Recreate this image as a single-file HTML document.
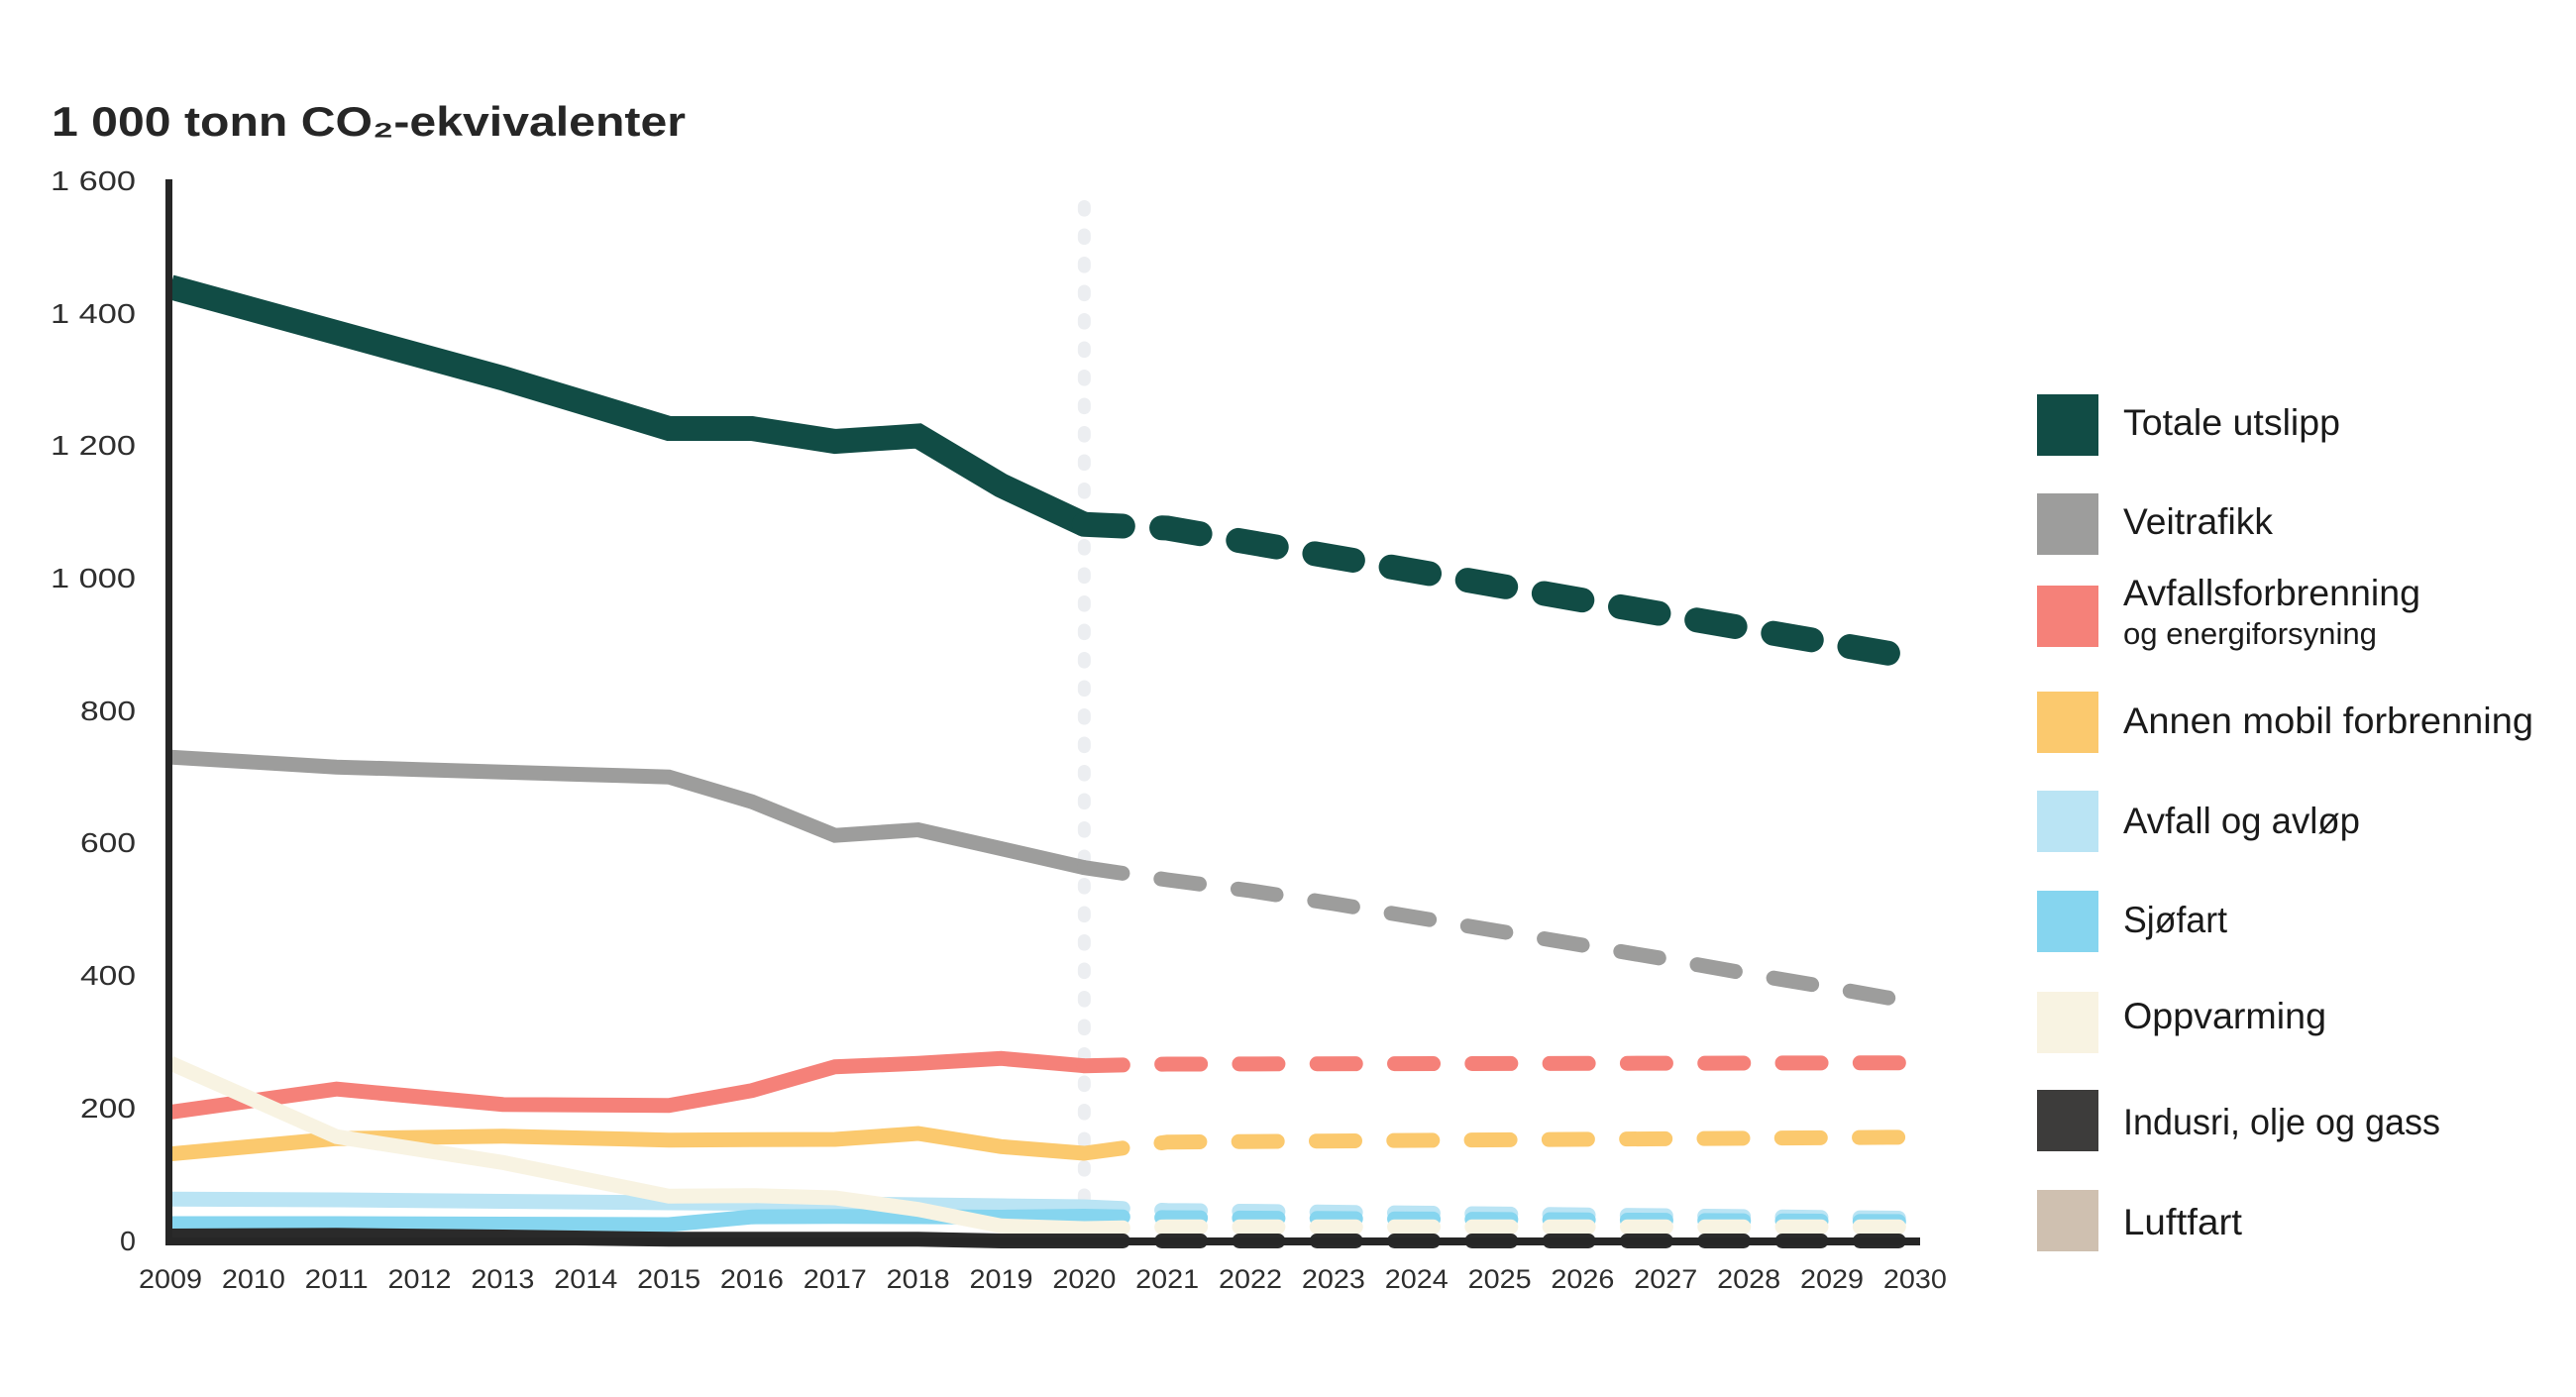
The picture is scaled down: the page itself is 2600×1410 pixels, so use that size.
<!DOCTYPE html>
<html>
<head>
<meta charset="utf-8">
<style>
  html,body{margin:0;padding:0;background:#fff;}
  svg{display:block;}
  .tick{font-family:"Liberation Sans",sans-serif;font-size:28px;fill:#2e2e2e;}
  .yr{font-family:"Liberation Sans",sans-serif;font-size:27px;fill:#2e2e2e;}
  .leg{font-family:"Liberation Sans",sans-serif;font-size:37px;fill:#1a1a1a;}
  .legs{font-family:"Liberation Sans",sans-serif;font-size:31px;fill:#1a1a1a;}
</style>
</head>
<body>
<svg width="2600" height="1410" viewBox="0 0 2600 1410" xmlns="http://www.w3.org/2000/svg">
  <rect width="2600" height="1410" fill="#fff"/>

  <!-- Title -->
  <text x="52" y="137" font-family="'Liberation Sans',sans-serif" font-weight="bold" font-size="42" fill="#262626" textLength="640" lengthAdjust="spacingAndGlyphs">1 000 tonn CO₂-ekvivalenter</text>

  <!-- Y tick labels -->
  <g class="tick" text-anchor="end">
    <text x="137" y="192" textLength="86" lengthAdjust="spacingAndGlyphs">1 600</text>
    <text x="137" y="326" textLength="86" lengthAdjust="spacingAndGlyphs">1 400</text>
    <text x="137" y="459" textLength="86" lengthAdjust="spacingAndGlyphs">1 200</text>
    <text x="137" y="593" textLength="86" lengthAdjust="spacingAndGlyphs">1 000</text>
    <text x="137" y="727" textLength="56" lengthAdjust="spacingAndGlyphs">800</text>
    <text x="137" y="860" textLength="56" lengthAdjust="spacingAndGlyphs">600</text>
    <text x="137" y="994" textLength="56" lengthAdjust="spacingAndGlyphs">400</text>
    <text x="137" y="1128" textLength="56" lengthAdjust="spacingAndGlyphs">200</text>
    <text x="137" y="1262" textLength="16" lengthAdjust="spacingAndGlyphs">0</text>
  </g>

  <!-- X year labels -->
  <g class="yr" text-anchor="middle">
    <text x="172" y="1300" textLength="64" lengthAdjust="spacingAndGlyphs">2009</text>
    <text x="255.85" y="1300" textLength="64" lengthAdjust="spacingAndGlyphs">2010</text>
    <text x="339.7" y="1300" textLength="64" lengthAdjust="spacingAndGlyphs">2011</text>
    <text x="423.55" y="1300" textLength="64" lengthAdjust="spacingAndGlyphs">2012</text>
    <text x="507.4" y="1300" textLength="64" lengthAdjust="spacingAndGlyphs">2013</text>
    <text x="591.25" y="1300" textLength="64" lengthAdjust="spacingAndGlyphs">2014</text>
    <text x="675.1" y="1300" textLength="64" lengthAdjust="spacingAndGlyphs">2015</text>
    <text x="758.95" y="1300" textLength="64" lengthAdjust="spacingAndGlyphs">2016</text>
    <text x="842.8" y="1300" textLength="64" lengthAdjust="spacingAndGlyphs">2017</text>
    <text x="926.65" y="1300" textLength="64" lengthAdjust="spacingAndGlyphs">2018</text>
    <text x="1010.5" y="1300" textLength="64" lengthAdjust="spacingAndGlyphs">2019</text>
    <text x="1094.35" y="1300" textLength="64" lengthAdjust="spacingAndGlyphs">2020</text>
    <text x="1178.2" y="1300" textLength="64" lengthAdjust="spacingAndGlyphs">2021</text>
    <text x="1262.05" y="1300" textLength="64" lengthAdjust="spacingAndGlyphs">2022</text>
    <text x="1345.9" y="1300" textLength="64" lengthAdjust="spacingAndGlyphs">2023</text>
    <text x="1429.75" y="1300" textLength="64" lengthAdjust="spacingAndGlyphs">2024</text>
    <text x="1513.6" y="1300" textLength="64" lengthAdjust="spacingAndGlyphs">2025</text>
    <text x="1597.45" y="1300" textLength="64" lengthAdjust="spacingAndGlyphs">2026</text>
    <text x="1681.3" y="1300" textLength="64" lengthAdjust="spacingAndGlyphs">2027</text>
    <text x="1765.15" y="1300" textLength="64" lengthAdjust="spacingAndGlyphs">2028</text>
    <text x="1849" y="1300" textLength="64" lengthAdjust="spacingAndGlyphs">2029</text>
    <text x="1932.85" y="1300" textLength="64" lengthAdjust="spacingAndGlyphs">2030</text>
  </g>

  <!-- vertical dotted line at 2020 -->
  <path d="M1094.35 208.5 V1245" stroke="#eceef1" stroke-width="13" stroke-linecap="round" stroke-dasharray="3.6 24.9" fill="none"/>

  <g fill="none" stroke-linejoin="miter">
    <!-- Avfall og avløp (light blue) -->
    <path d="M172 1210.3 L339.7 1211 L507.4 1212.5 L675.1 1214 L842.8 1215 L1010.5 1217 L1094.35 1218" stroke="#bae4f4" stroke-width="15"/>
    <path d="M1094.35 1218 L1178.2 1221.7 L1932.85 1229.7" stroke="#bae4f4" stroke-width="15" stroke-linecap="round" stroke-dasharray="39 39.3"/>

    <!-- Sjøfart (medium blue) -->
    <path d="M172 1235 L339.7 1235 L507.4 1235.5 L675.1 1236 L758.95 1228.2 L842.8 1227.8 L926.65 1228 L1010.5 1228.5 L1094.35 1227.5" stroke="#86d5ef" stroke-width="15"/>
    <path d="M1094.35 1227.5 L1178.2 1229 L1932.85 1233" stroke="#86d5ef" stroke-width="15" stroke-linecap="round" stroke-dasharray="39 39.3"/>

    <!-- Annen mobil forbrenning (yellow) -->
    <path d="M172 1164.7 L255.85 1157 L339.7 1149.2 L423.55 1148 L507.4 1146.7 L591.25 1148.7 L675.1 1150.7 L758.95 1150.3 L842.8 1150 L926.65 1144 L1010.5 1157.3 L1094.35 1164" stroke="#fbc96e" stroke-width="15"/>
    <path d="M1094.35 1164 L1178.2 1152.7 L1932.85 1147.7" stroke="#fbc96e" stroke-width="15" stroke-linecap="round" stroke-dasharray="39 39.3"/>

    <!-- Avfallsforbrenning (red) -->
    <path d="M172 1122.5 L255.85 1110.8 L339.7 1099.2 L423.55 1107 L507.4 1114.7 L591.25 1115.2 L675.1 1115.8 L758.95 1100.7 L842.8 1076.7 L926.65 1073.3 L1010.5 1068.3 L1094.35 1075.7" stroke="#f58179" stroke-width="15"/>
    <path d="M1094.35 1075.7 L1178.2 1074 L1932.85 1072.7" stroke="#f58179" stroke-width="15" stroke-linecap="round" stroke-dasharray="39 39.3"/>

    <!-- Veitrafikk (grey) -->
    <path d="M172 764.2 L255.85 769.2 L339.7 774.2 L423.55 776.7 L507.4 779.2 L591.25 781.7 L675.1 784.2 L758.95 809.2 L842.8 843.2 L926.65 837.5 L1010.5 856.6 L1094.35 875.7" stroke="#9d9d9c" stroke-width="15"/>
    <path d="M1094.35 875.7 L1178.2 888 L1262.05 899 L1345.9 912 L1429.75 926 L1513.6 940 L1597.45 954 L1681.3 968 L1765.15 983 L1849 997 L1932.85 1012" stroke="#9d9d9c" stroke-width="15" stroke-linecap="round" stroke-dasharray="39 39.3"/>

    <!-- Totale utslipp (dark green) -->
    <path d="M172 289.7 L507.4 381.7 L591.25 407 L675.1 432.5 L758.95 432.5 L842.8 445.5 L926.65 440 L1010.5 490 L1094.35 529.3" stroke="#114c45" stroke-width="25"/>
    <path d="M1094.35 529.3 L1178.2 533 L1932.85 664" stroke="#114c45" stroke-width="25" stroke-linecap="round" stroke-dasharray="39 39.3"/>

    <!-- Oppvarming (cream) -->
    <path d="M172 1073 L255.85 1110 L339.7 1147.3 L423.55 1160.3 L507.4 1173.3 L591.25 1190.3 L675.1 1207.3 L758.95 1206.7 L842.8 1209 L926.65 1220.7 L1010.5 1237.3 L1094.35 1240" stroke="#f8f3e2" stroke-width="15"/>
    <path d="M1094.35 1240 L1178.2 1238.3 L1932.85 1238.3" stroke="#f8f3e2" stroke-width="15" stroke-linecap="round" stroke-dasharray="39 39.3"/>

    <!-- Indusri, olje og gass (black) -->
    <path d="M172 1247.5 L339.7 1246.8 L507.4 1248.5 L675.1 1250.8 L926.65 1250.8 L1010.5 1252.5 L1094.35 1252.5" stroke="#2a2a2a" stroke-width="15"/>
    <path d="M1094.35 1252.5 L1932.85 1252.5" stroke="#2a2a2a" stroke-width="15" stroke-linecap="round" stroke-dasharray="39 39.3"/>
  </g>

  <!-- Axes -->
  <rect x="167" y="181" width="7" height="1076" fill="#262626"/>
  <rect x="167" y="1249" width="1771" height="8" fill="#262626"/>

  <!-- Legend -->
  <rect x="2056" y="398" width="62" height="62" fill="#114c45"/>
  <text class="leg" x="2143" y="439" textLength="219" lengthAdjust="spacingAndGlyphs">Totale utslipp</text>

  <rect x="2056" y="498" width="62" height="62" fill="#9d9d9c"/>
  <text class="leg" x="2143" y="539" textLength="151" lengthAdjust="spacingAndGlyphs">Veitrafikk</text>

  <rect x="2056" y="591" width="62" height="62" fill="#f58179"/>
  <text class="leg" x="2143" y="611" textLength="300" lengthAdjust="spacingAndGlyphs">Avfallsforbrenning</text>
  <text class="legs" x="2143" y="650" textLength="256" lengthAdjust="spacingAndGlyphs">og energiforsyning</text>

  <rect x="2056" y="698" width="62" height="62" fill="#fbc96e"/>
  <text class="leg" x="2143" y="740" textLength="414" lengthAdjust="spacingAndGlyphs">Annen mobil forbrenning</text>

  <rect x="2056" y="798" width="62" height="62" fill="#bae4f4"/>
  <text class="leg" x="2143" y="841" textLength="239" lengthAdjust="spacingAndGlyphs">Avfall og avløp</text>

  <rect x="2056" y="899" width="62" height="62" fill="#86d5ef"/>
  <text class="leg" x="2143" y="941" textLength="105" lengthAdjust="spacingAndGlyphs">Sjøfart</text>

  <rect x="2056" y="1001" width="62" height="62" fill="#f8f3e2"/>
  <text class="leg" x="2143" y="1038" textLength="205" lengthAdjust="spacingAndGlyphs">Oppvarming</text>

  <rect x="2056" y="1100" width="62" height="62" fill="#3d3c3b"/>
  <text class="leg" x="2143" y="1145" textLength="320" lengthAdjust="spacingAndGlyphs">Indusri, olje og gass</text>

  <rect x="2056" y="1201" width="62" height="62" fill="#cfc0b0"/>
  <text class="leg" x="2143" y="1246" textLength="120" lengthAdjust="spacingAndGlyphs">Luftfart</text>
</svg>
</body>
</html>
